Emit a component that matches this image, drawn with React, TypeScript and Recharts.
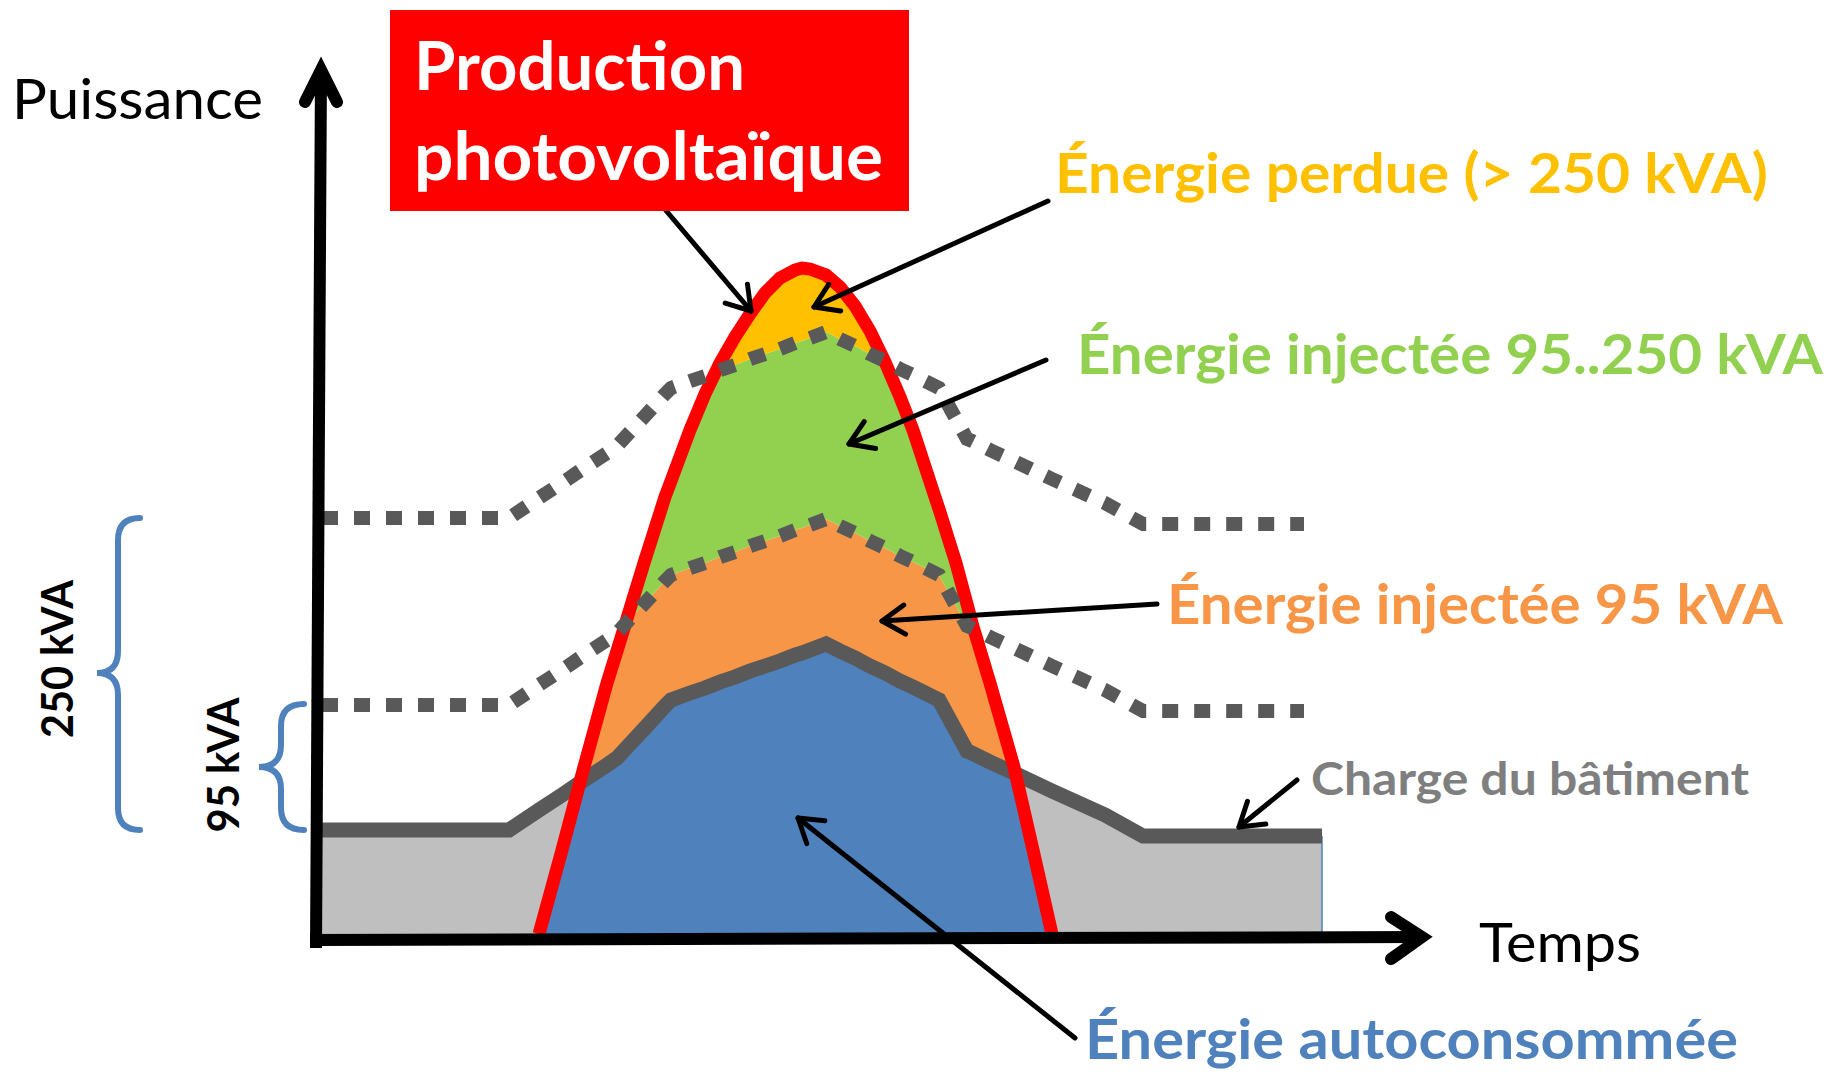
import { ComposedChart, Area, Line, XAxis, YAxis, ReferenceLine } from 'recharts'

const W = 1832
const H = 1074

// temps (0 → 100) le long de l'axe horizontal
const temps = [
  0, 18.7, 21.7, 24, 26.2, 28.5, 29.5, 30.7, 32.2, 34.3, 34.9, 36.8, 38.3, 39.8, 41.3, 42.8,
  44.3, 45.8, 47.3, 48, 48.8, 50.4, 51.8, 53.3, 54.8, 56.3, 57.8, 59.1, 61.3, 61.7, 63.4,
  64.5, 65, 66.8, 69.2, 71.1, 73, 78.3, 82.1, 98.2, 100,
]

// production photovoltaïque (cloche)
const production = [
  null, null, 0, 84, 167, 251, 283, 322, 371, 437, 453, 504, 540, 571, 597, 620,
  641, 656, 664, 666, 665, 659, 647, 628, 603, 572, 537, 504, 437, 425, 371,
  330, 311, 251, 167, 84, 0, null, null, null, null,
]

// charge du bâtiment
const charge = [
  104, 104, 124, 139, 154, 169, 176, 189, 205, 228, 234, 241, 246, 252, 257, 263,
  268, 273, 279, 281, 284, 290, 283, 276, 268, 261, 253, 247, 236, 234, 203,
  183, 181, 172, 161, 152, 143, 119, 98, 98, 98,
]

// limites d'injection (pointillés)
const limite95 = [
  229, 229, 249, 264, 279, 294, 301, 314, 330, 353, 359, 366, 371, 377, 382, 388,
  393, 398, 404, 406, 409, 415, 408, 401, 393, 386, 378, 372, 361, 359, 328,
  308, 306, 297, 286, 277, 268, 244, 223, 223, null,
]
const limite250 = [
  416, 416, 436, 451, 466, 481, 488, 501, 517, 540, 546, 553, 558, 564, 569, 575,
  580, 585, 591, 593, 596, 602, 595, 588, 580, 573, 565, 559, 548, 546, 515,
  495, 493, 484, 473, 464, 455, 431, 410, 410, null,
]

const COLORS = {
  auto: '#4F81BD',
  charge: '#BFBFBF',
  inj95: '#F79646',
  inj250: '#92D050',
  perdue: '#FFC000',
  pv: '#FF0000',
  ligne: '#595959',
}

const data = temps.map((t, i) => {
  const pv = production[i] ?? 0
  const load = charge[i]
  const lo = limite95[i] ?? load
  const hi = limite250[i] ?? load
  const auto = Math.min(pv, load)
  return {
    t,
    auto,
    reste: load - auto,
    inj95: Math.min(pv, lo) - auto,
    inj250: Math.min(pv, hi) - Math.min(pv, lo),
    perdue: pv - Math.min(pv, hi),
    pv: production[i],
    charge: load,
    lo: limite95[i],
    hi: limite250[i],
  }
})

const FONT = "Lato, 'Open Sans', sans-serif"

function Fleche({ x1, y1, x2, y2 }: { x1: number; y1: number; x2: number; y2: number }) {
  const a = Math.atan2(y2 - y1, x2 - x1)
  const L = 27
  const s = Math.PI / 5.5
  const p1 = `${x2 - L * Math.cos(a - s)},${y2 - L * Math.sin(a - s)}`
  const p2 = `${x2 - L * Math.cos(a + s)},${y2 - L * Math.sin(a + s)}`
  return (
    <g stroke="#000" strokeWidth={5} strokeLinecap="round" strokeLinejoin="round" fill="none">
      <line x1={x1} y1={y1} x2={x2} y2={y2} />
      <polyline points={`${p1} ${x2},${y2} ${p2}`} />
    </g>
  )
}

function Accolade({ tip, spine, mid, top, milieu, bas }: { tip: number; spine: number; mid: number; top: number; milieu: number; bas: number }) {
  const r = 22
  const d = `M${tip},${top} Q${spine},${top} ${spine},${top + r} L${spine},${milieu - r} Q${spine},${milieu} ${mid},${milieu} Q${spine},${milieu} ${spine},${milieu + r} L${spine},${bas - r} Q${spine},${bas} ${tip},${bas}`
  return <path d={d} stroke={COLORS.auto} strokeWidth={6} fill="none" strokeLinecap="round" />
}

export default function App() {
  return (
    <div style={{ position: 'absolute', left: 0, top: 0, width: W, height: H, background: '#fff', overflow: 'hidden' }}>
      <ComposedChart
        width={W}
        height={H}
        data={data}
        margin={{ top: 234, right: 510, bottom: 140, left: 322 }}
      >
        <XAxis type="number" dataKey="t" domain={[0, 100]} hide />
        <YAxis type="number" domain={[0, 700]} hide allowDataOverflow />
        <Area type="linear" dataKey="auto" stackId="s" stroke="none" fill={COLORS.auto} fillOpacity={1} isAnimationActive={false} />
        <Area type="linear" dataKey="reste" stackId="s" stroke="none" fill={COLORS.charge} fillOpacity={1} isAnimationActive={false} />
        <Area type="linear" dataKey="inj95" stackId="s" stroke="none" fill={COLORS.inj95} fillOpacity={1} isAnimationActive={false} />
        <Area type="linear" dataKey="inj250" stackId="s" stroke="none" fill={COLORS.inj250} fillOpacity={1} isAnimationActive={false} />
        <Area type="linear" dataKey="perdue" stackId="s" stroke="none" fill={COLORS.perdue} fillOpacity={1} isAnimationActive={false} />
        <ReferenceLine segment={[{ x: 100, y: 0 }, { x: 100, y: 98 }]} stroke={COLORS.auto} strokeWidth={1.5} />
        <Line type="linear" dataKey="charge" stroke={COLORS.ligne} strokeWidth={15} dot={false} isAnimationActive={false} />
        <Line type="linear" dataKey="pv" stroke={COLORS.pv} strokeWidth={13} dot={false} isAnimationActive={false} />
        <Line type="linear" dataKey="lo" stroke={COLORS.ligne} strokeWidth={14} strokeDasharray="16 16" dot={false} isAnimationActive={false} />
        <Line type="linear" dataKey="hi" stroke={COLORS.ligne} strokeWidth={14} strokeDasharray="16 16" dot={false} isAnimationActive={false} />
      </ComposedChart>

      <svg width={W} height={H} style={{ position: 'absolute', left: 0, top: 0, pointerEvents: 'none' }}>
        {/* axes */}
        <line x1={316} y1={948} x2={321} y2={70} stroke="#000" strokeWidth={12} />
        <polyline points="305,102 321,70 337,102" stroke="#000" strokeWidth={12} fill="none" strokeLinecap="round" strokeLinejoin="miter" />
        <line x1={310} y1={940} x2={1422} y2={937} stroke="#000" strokeWidth={12} />
        <polyline points="1391,917 1422,937 1391,959" stroke="#000" strokeWidth={12} fill="none" strokeLinecap="round" strokeLinejoin="miter" />

        {/* accolades */}
        <Accolade tip={140} spine={118} mid={97} top={518} milieu={673} bas={830} />
        <Accolade tip={304} spine={281} mid={259} top={704} milieu={767} bas={830} />

        {/* flèches */}
        <Fleche x1={663} y1={207} x2={751} y2={311} />
        <Fleche x1={1048} y1={201} x2={814} y2={307} />
        <Fleche x1={1046} y1={360} x2={849} y2={444} />
        <Fleche x1={1157} y1={604} x2={882} y2={621} />
        <Fleche x1={1297} y1={780} x2={1239} y2={827} />
        <Fleche x1={1075} y1={1038} x2={798} y2={818} />

        {/* textes */}
        <g fontFamily={FONT}>
          <text x={12} y={119} fontSize={56} textLength={251} lengthAdjust="spacingAndGlyphs" fill="#000">Puissance</text>
          <text x={1479} y={962} fontSize={54} textLength={162} lengthAdjust="spacingAndGlyphs" fill="#000">Temps</text>

          <rect x={390} y={10} width={519} height={201} fill="#FF0000" />
          <text x={414} y={90} fontSize={67} fontWeight="bold" textLength={331} lengthAdjust="spacingAndGlyphs" fill="#fff">Production</text>
          <text x={414} y={180} fontSize={67} fontWeight="bold" textLength={469} lengthAdjust="spacingAndGlyphs" fill="#fff">photovoltaïque</text>

          <text x={1055} y={193} fontSize={56} fontWeight="bold" textLength={713} lengthAdjust="spacingAndGlyphs" fill={COLORS.perdue}>Énergie perdue (&gt; 250 kVA)</text>
          <text x={1077} y={374} fontSize={56} fontWeight="bold" textLength={746} lengthAdjust="spacingAndGlyphs" fill={COLORS.inj250}>Énergie injectée 95..250 kVA</text>
          <text x={1167} y={624} fontSize={56} fontWeight="bold" textLength={616} lengthAdjust="spacingAndGlyphs" fill={COLORS.inj95}>Énergie injectée 95 kVA</text>
          <text x={1311} y={795} fontSize={46} fontWeight="bold" textLength={438} lengthAdjust="spacingAndGlyphs" fill="#7F7F7F">Charge du bâtiment</text>
          <text x={1085} y={1059} fontSize={56} fontWeight="bold" textLength={653} lengthAdjust="spacingAndGlyphs" fill={COLORS.auto}>Énergie autoconsommée</text>

          <text x={73} y={659} fontSize={44} fontWeight="bold" textAnchor="middle" textLength={158} lengthAdjust="spacingAndGlyphs" fill="#000" transform="rotate(-90 73 659)">250 kVA</text>
          <text x={239} y={765} fontSize={44} fontWeight="bold" textAnchor="middle" textLength={135} lengthAdjust="spacingAndGlyphs" fill="#000" transform="rotate(-90 239 765)">95 kVA</text>
        </g>
      </svg>
    </div>
  )
}
